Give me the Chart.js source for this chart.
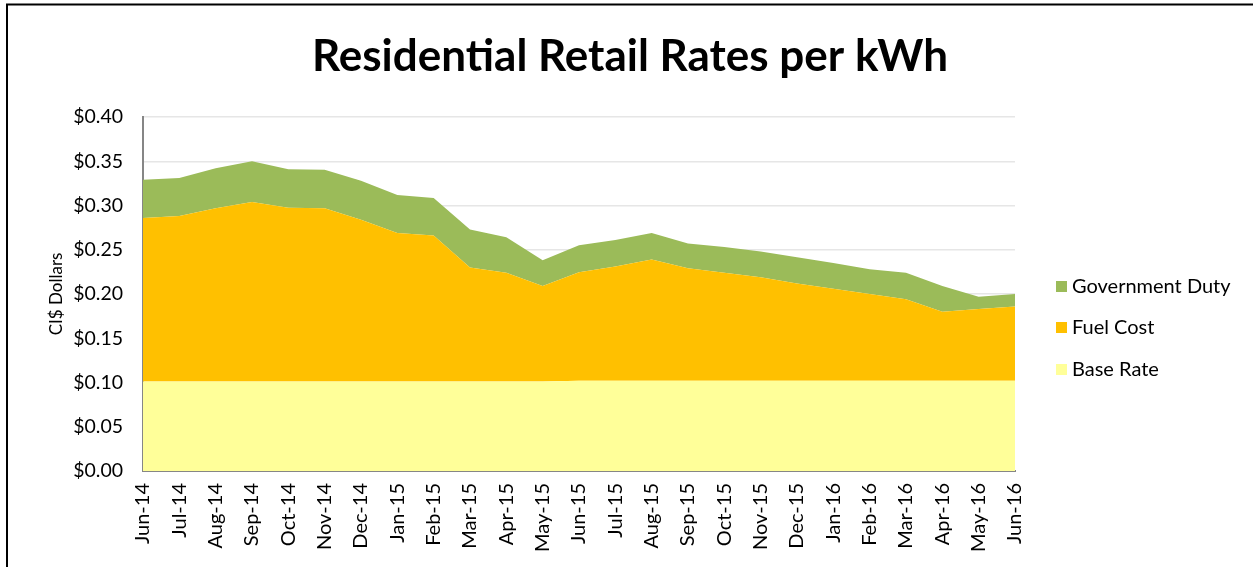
<!DOCTYPE html>
<html>
<head>
<meta charset="utf-8">
<script src="https://cdn.jsdelivr.net/npm/chart.js@4.4.1/dist/chart.umd.min.js"></script>
<style>
  html, body { margin: 0; padding: 0; background: #fff; }
  #wrap { position: relative; width: 1253px; height: 567px; }
  canvas { display: block; }
</style>
</head>
<body>
<div id="wrap"><canvas id="c" width="1253" height="567"></canvas></div>
<script>
const categories = ["Jun-14","Jul-14","Aug-14","Sep-14","Oct-14","Nov-14","Dec-14","Jan-15","Feb-15","Mar-15","Apr-15","May-15","Jun-15","Jul-15","Aug-15","Sep-15","Oct-15","Nov-15","Dec-15","Jan-16","Feb-16","Mar-16","Apr-16","May-16","Jun-16"];
const baseRate = [0.101,0.101,0.101,0.101,0.101,0.101,0.101,0.101,0.101,0.101,0.101,0.101,0.102,0.102,0.102,0.102,0.102,0.102,0.102,0.102,0.102,0.102,0.102,0.102,0.102];
const fuelCost = [0.185,0.187,0.196,0.203,0.1965,0.196,0.183,0.168,0.165,0.129,0.123,0.108,0.1225,0.129,0.137,0.127,0.122,0.117,0.110,0.104,0.098,0.092,0.078,0.081,0.084];
const governmentDuty = [0.043,0.043,0.045,0.046,0.0435,0.0435,0.044,0.043,0.0425,0.043,0.040,0.029,0.0305,0.030,0.030,0.028,0.029,0.029,0.0295,0.029,0.028,0.030,0.029,0.014,0.014];
const yTicks = [0,0.05,0.10,0.15,0.20,0.25,0.30,0.35,0.40];
const chartTitle = 'Residential Retail Rates per kWh';

const FONT = "Lato, 'Open Sans', sans-serif";

const framePlugin = {
  id: 'frame',
  beforeDraw(chart) {
    const ctx = chart.ctx;
    ctx.save();
    ctx.fillStyle = '#ffffff';
    ctx.fillRect(0, 0, chart.width, chart.height);
    ctx.restore();
  },
  afterDraw(chart) {
    const ctx = chart.ctx;
    ctx.save();
    ctx.strokeStyle = '#000000';
    ctx.lineWidth = 2;
    ctx.beginPath();
    ctx.moveTo(7, chart.height);
    ctx.lineTo(7, 4.5);
    ctx.lineTo(chart.width, 4.5);
    ctx.stroke();
    // title
    ctx.fillStyle = '#000000';
    ctx.font = "bold 44px " + FONT;
    ctx.textAlign = 'center';
    ctx.textBaseline = 'middle';
    ctx.fillText(chartTitle, 630, 57);
    ctx.restore();
  }
};

const legendPlugin = {
  id: 'sideLegend',
  afterDraw(chart) {
    const ctx = chart.ctx;
    const ds = chart.data.datasets;
    const order = [2, 1, 0];
    const ys = [287, 328, 370];
    ctx.save();
    ctx.font = "20px " + FONT;
    ctx.textBaseline = 'middle';
    ctx.textAlign = 'left';
    order.forEach((i, k) => {
      ctx.fillStyle = ds[i].backgroundColor;
      ctx.fillRect(1056, ys[k] - 6, 11, 11);
      ctx.fillStyle = '#000000';
      ctx.fillText(ds[i].label, 1072, ys[k]);
    });
    ctx.restore();
  }
};

new Chart(document.getElementById('c'), {
  type: 'line',
  data: {
    labels: categories,
    datasets: [
      { label: 'Base Rate', data: baseRate, backgroundColor: '#FFFF99', borderWidth: 0, fill: 'origin', pointRadius: 0 },
      { label: 'Fuel Cost', data: fuelCost, backgroundColor: '#FFC000', borderWidth: 0, fill: '-1', pointRadius: 0 },
      { label: 'Government Duty', data: governmentDuty, backgroundColor: '#9BBB59', borderWidth: 0, fill: '-1', pointRadius: 0 }
    ]
  },
  options: {
    responsive: false,
    animation: false,
    layout: { padding: { left: 46, right: 238, top: 117, bottom: 0 }, autoPadding: false },
    plugins: {
      legend: { display: false },
      tooltip: { enabled: false },
      title: { display: false }
    },
    elements: { line: { tension: 0 } },
    scales: {
      x: {
        type: 'category',
        offset: false,
        grid: { display: false, drawTicks: false },
        border: { display: true, color: '#868686', width: 2 },
        ticks: {
          color: '#000000',
          font: { family: FONT, size: 20 },
          minRotation: 90, maxRotation: 90,
          autoSkip: false,
          padding: 12
        },
        afterFit(scale) { scale.height = 96; }
      },
      y: {
        stacked: true,
        min: 0, max: 0.4,
        afterBuildTicks(scale) { scale.ticks = yTicks.map(v => ({ value: v })); },
        grid: { color: '#E6E6E6', lineWidth: 1.5, drawTicks: false },
        border: { display: true, color: '#868686', width: 2 },
        ticks: {
          color: '#000000',
          font: { family: FONT, size: 19.5 },
          padding: 20,
          callback: v => '$' + Number(v).toFixed(2)
        },
        title: {
          display: true,
          text: 'CI$ Dollars',
          color: '#000000',
          font: { family: FONT, size: 17 },
          padding: { top: 0, bottom: 0 }
        },
        afterFit(scale) { scale.width = 97; }
      }
    }
  },
  plugins: [framePlugin, legendPlugin]
});
</script>
</body>
</html>
